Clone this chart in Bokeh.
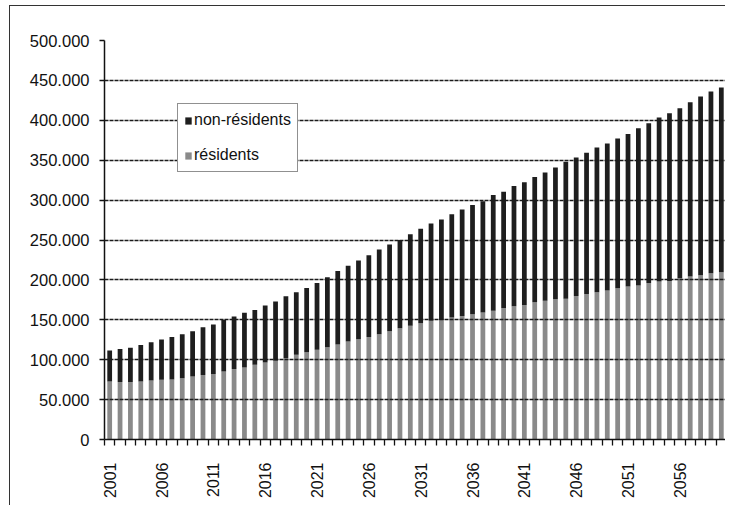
import math
from bokeh.plotting import figure
from bokeh.models import ColumnDataSource, FixedTicker, Legend, LegendItem
from bokeh.embed import file_html
from bokeh.resources import INLINE

# ---- data -------------------------------------------------------------
years = list(range(2001, 2061))

residents = [
    72700, 71900, 71900, 72700, 74000, 74800, 75200, 76900, 79000, 80700,
    82200, 85300, 88200, 90300, 93700, 96600, 98700, 102100, 106300, 109200,
    112500, 115500, 119000, 122700, 125600, 128600, 131900, 135500, 139500, 142400,
    145800, 148700, 149600, 153000, 154800, 157100, 159200, 161300, 164700, 167000,
    168500, 171900, 174000, 175600, 176500, 179800, 182400, 184500, 186600, 189500,
    191600, 192900, 196200, 197900, 198700, 202500, 204200, 205900, 208400, 209700,
]

non_residents = [
    38700, 41600, 43200, 45800, 47900, 50400, 53400, 55000, 56700, 60100,
    61900, 64700, 65900, 68400, 68600, 71200, 74100, 77400, 78100, 80700,
    83700, 87900, 92000, 95100, 98600, 102300, 106200, 109000, 110500, 114800,
    118200, 122100, 126200, 129200, 133300, 136900, 139500, 145000, 145800, 150800,
    153800, 157100, 160500, 165200, 171500, 173600, 176900, 181500, 184400, 187800,
    191200, 197100, 200000, 205500, 210100, 212600, 218500, 223900, 227700, 231500,
]

series_names = ["non-résidents", "résidents"]

x_tick_years = [2001, 2006, 2011, 2016, 2021, 2026, 2031, 2036, 2041, 2046, 2051, 2056]
x_tick_labels = ["2001", "2006", "2011", "2016", "2021", "2026", "2031", "2036",
                 "2041", "2046", "2051", "2056"]

y_ticks = [0, 50000, 100000, 150000, 200000, 250000, 300000, 350000, 400000, 450000, 500000]
y_tick_labels = ["0", "50.000", "100.000", "150.000", "200.000", "250.000",
                 "300.000", "350.000", "400.000", "450.000", "500.000"]

# ---- styles -----------------------------------------------------------
FONT = "Liberation Sans"
DARK = "#1e1e1e"
GRAY = "#8a8a8a"

source = ColumnDataSource(dict(year=years, res=residents, nonres=non_residents))

p = figure(
    width=716, height=500,
    x_range=(2000.5, 2060.5), y_range=(0, 500000),
    output_backend="svg", toolbar_location=None,
    min_border_left=94, min_border_right=0, min_border_top=34, min_border_bottom=67,
)
p.outline_line_color = None
p.styles = {"margin-left": "9px", "margin-top": "5px",
            "border-top": "1.5px solid #333", "border-left": "1.5px solid #333"}

renderers = p.vbar_stack(["res", "nonres"], x="year", width=0.46,
                         color=[GRAY, DARK], line_color=None, source=source)

# grid
p.xgrid.visible = False
p.ygrid.ticker = FixedTicker(ticks=y_ticks)
p.ygrid.grid_line_color = "#1a1a1a"
p.ygrid.grid_line_dash = "4 1"
p.ygrid.grid_line_width = 1.3
p.ygrid.level = "guide"

# y axis
p.yaxis.ticker = FixedTicker(ticks=y_ticks)
p.yaxis.major_label_overrides = {t: l for t, l in zip(y_ticks, y_tick_labels)}
p.yaxis.major_label_text_font = FONT
p.yaxis.major_label_text_font_size = "16.5px"
p.yaxis.major_label_text_color = "#111111"
p.yaxis.major_tick_out = 5
p.yaxis.major_tick_in = 0
p.yaxis.minor_tick_out = 0
p.yaxis.minor_tick_in = 0
p.yaxis.major_label_standoff = 10
p.yaxis.axis_line_width = 1.5
p.yaxis.axis_line_color = "#111111"
p.yaxis.major_tick_line_color = "#111111"
p.yaxis.major_tick_line_width = 1.3

# x axis
p.xaxis.ticker = FixedTicker(ticks=x_tick_years,
                             minor_ticks=[y - 0.5 for y in years] + [years[-1] + 0.5])
p.xaxis.major_label_overrides = {t: l for t, l in zip(x_tick_years, x_tick_labels)}
p.xaxis.major_label_orientation = math.pi / 2
p.xaxis.major_label_text_font = FONT
p.xaxis.major_label_text_font_size = "16px"
p.xaxis.major_label_text_color = "#111111"
p.xaxis.major_tick_out = 0
p.xaxis.major_tick_in = 0
p.xaxis.minor_tick_out = 6
p.xaxis.minor_tick_in = 0
p.xaxis.minor_tick_line_color = "#111111"
p.xaxis.minor_tick_line_width = 1.3
p.xaxis.major_label_standoff = 17
p.xaxis.axis_line_width = 1.5
p.xaxis.axis_line_color = "#111111"

legend = Legend(
    items=[LegendItem(label=series_names[0], renderers=[renderers[1]]),
           LegendItem(label=series_names[1], renderers=[renderers[0]])],
    location=(73, 267),
    border_line_color="#222222", border_line_width=1.2,
    background_fill_color="white", background_fill_alpha=1.0,
    label_text_font=FONT, label_text_font_size="16px", label_text_color="#111111",
    glyph_width=8, glyph_height=9, label_standoff=2,
    padding=6, spacing=15, label_height=20, margin=0,
)
p.add_layout(legend)

open("out.html", "w").write(file_html(p, INLINE))
